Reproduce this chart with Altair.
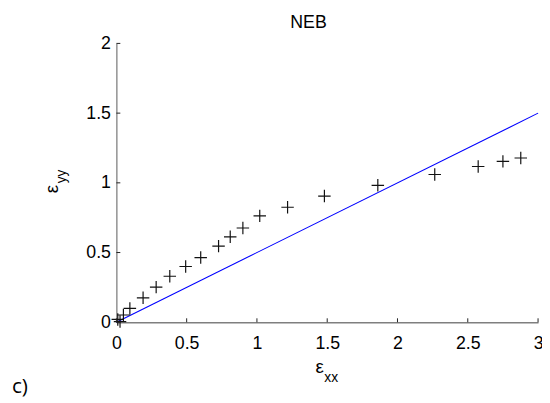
import altair as alt
import pandas as pd

# data
exx = [0.01, 0.026, 0.05, 0.096, 0.19, 0.283, 0.38, 0.493, 0.60, 0.727, 0.81, 0.90, 1.02, 1.218, 1.48, 1.86, 2.265, 2.574, 2.75, 2.877]
eyy = [0.02, 0.005, 0.052, 0.099, 0.175, 0.252, 0.33, 0.40, 0.464, 0.546, 0.613, 0.676, 0.763, 0.825, 0.905, 0.982, 1.06, 1.117, 1.154, 1.178]
line_x = [0, 3]
line_y = [0, 1.5]
x_ticks = [0, 0.5, 1, 1.5, 2, 2.5, 3]
y_ticks = [0, 0.5, 1, 1.5, 2]

W, H = 428, 283
FONT = "Liberation Sans"
FS = 18

xs = alt.Scale(domain=[0, 3], nice=False, zero=False)
ys = alt.Scale(domain=[0, 2], nice=False, zero=False)

xaxis = alt.Axis(values=x_ticks, format="~g", grid=False, ticks=False, tickSize=0,
                 domainColor="#7f7f7f", domainWidth=1.3, labelFont=FONT, labelFontSize=FS,
                 labelColor="black", labelPadding=13, title=None, labelFlush=False)
yaxis = alt.Axis(values=y_ticks, format="~g", grid=False, ticks=False, tickSize=0,
                 domainColor="#7f7f7f", domainWidth=1.3, labelFont=FONT, labelFontSize=FS,
                 labelColor="black", labelPadding=6, title=None, labelFlush=False)

line_df = pd.DataFrame({"x": line_x, "y": line_y})
pts_df = pd.DataFrame({"x": exx, "y": eyy})

line = alt.Chart(line_df).mark_line(color="#0000ff", strokeWidth=1.1).encode(
    x=alt.X("x:Q", scale=xs, axis=xaxis),
    y=alt.Y("y:Q", scale=ys, axis=yaxis),
)

pts = alt.Chart(pts_df).mark_point(
    shape="M-1,0L1,0M0,-1L0,1", size=160, color="#111111", strokeWidth=1.2, filled=False,
    opacity=1
).encode(x=alt.X("x:Q", scale=xs), y=alt.Y("y:Q", scale=ys))

xt = alt.Chart(pd.DataFrame({"v": x_ticks})).mark_rule(color="#222222", strokeWidth=1).encode(
    x=alt.X("v:Q", scale=xs), y=alt.value(H), y2=alt.value(H - 4))
yt = alt.Chart(pd.DataFrame({"v": y_ticks})).mark_rule(color="#222222", strokeWidth=1).encode(
    y=alt.Y("v:Q", scale=ys), x=alt.value(0), x2=alt.value(4))

def txt(s, x, y, size, angle=0, align="left", font=FONT):
    return alt.Chart(pd.DataFrame({"t": [s]})).mark_text(
        font=font, fontSize=size, align=align, baseline="alphabetic", angle=angle, color="black"
    ).encode(text="t:N", x=alt.value(x), y=alt.value(y))

title = txt("NEB", 195, -16, 18, align="center")
xl1 = txt("ε", 202, 335, 19)
xl2 = txt("xx", 211, 344, 14)
yl1 = txt("ε", -59, 152, 19, angle=270)
yl2 = txt("yy", -51, 142, 14, angle=270)
clab = txt("c)", -106, 355, 21, font="Open Sans")

chart = alt.layer(line, pts, xt, yt, title, xl1, xl2, yl1, yl2, clab).properties(
    width=W, height=H,
    padding={"left": 110, "top": 33, "right": 4, "bottom": 78},
    autosize=alt.AutoSizeParams(type="none"),
).configure_view(stroke=None)

chart.save("out.html", embed_options={"renderer": "svg", "actions": False})
